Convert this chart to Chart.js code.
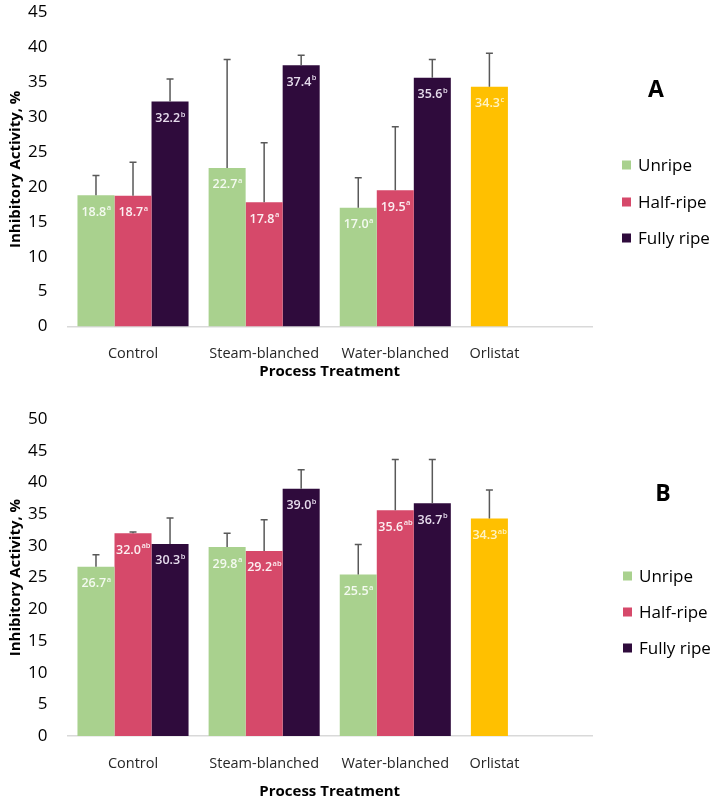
<!DOCTYPE html>
<html><head><meta charset="utf-8">
<script src="https://cdn.jsdelivr.net/npm/chart.js@4"></script>
<style>
html,body{margin:0;padding:0;background:#fff;}
#wa{position:absolute;left:0;top:0;width:720px;height:382px;}
#wb{position:absolute;left:0;top:382px;width:720px;height:420px;}
</style></head><body>
<div id="wa"><canvas id="ca"></canvas></div>
<div id="wb"><canvas id="cb"></canvas></div>
<script>
// ---------- data ----------
const categories = ['Control', 'Steam-blanched', 'Water-blanched', 'Orlistat' + ' '.repeat(17)];
const seriesNames = ['Unripe', 'Half-ripe', 'Fully ripe'];

// Panel A (last Unripe slot = Orlistat reference bar)
const unripeA = [18.8, 22.7, 17.0, 34.3];
const halfA   = [18.7, 17.8, 19.5, null];
const fullyA  = [32.2, 37.4, 35.6, null];
const unripeErrA = [2.8, 15.5, 4.3, 4.8];
const halfErrA   = [4.8, 8.5, 9.1, null];
const fullyErrA  = [3.2, 1.4, 2.6, null];
const unripeSupA = ['a', 'a', 'a', 'c'];
const halfSupA   = ['a', 'a', 'a', null];
const fullySupA  = ['b', 'b', 'b', null];

// Panel B
const unripeB = [26.7, 29.8, 25.5, 34.3];
const halfB   = [32.0, 29.2, 35.6, null];
const fullyB  = [30.3, 39.0, 36.7, null];
const unripeErrB = [1.9, 2.2, 4.7, 4.5];
const halfErrB   = [0.2, 4.9, 8.0, null];
const fullyErrB  = [4.1, 3.0, 6.9, null];
const unripeSupB = ['a', 'a', 'a', 'ab'];
const halfSupB   = ['ab', 'ab', 'ab', null];
const fullySupB  = ['b', 'b', 'b', null];

const yMaxA = 45, yMaxB = 50, yStep = 5;

// ---------- styles ----------
const GREEN = '#A9D18E', RED = '#D6496A', DARK = '#2F0B3C', ORANGE = '#FFC000';
const FONT = '"Open Sans", "DejaVu Sans", sans-serif';
const X_TICK_PAD = 19, Y_TICK_PAD = 20;

const overlay = {
  id: 'overlay',
  afterDatasetsDraw(chart, args, opts) {
    const ctx = chart.ctx, ys = chart.scales.y;
    chart.data.datasets.forEach((ds, di) => {
      const meta = chart.getDatasetMeta(di);
      meta.data.forEach((bar, i) => {
        const v = ds.data[i];
        if (v == null) return;
        const e = ds.errors[i];
        const x = bar.x, top = bar.y;
        if (e != null) {
          const yt = ys.getPixelForValue(v + e);
          ctx.save();
          ctx.strokeStyle = '#595959'; ctx.lineWidth = 1.5;
          ctx.beginPath();
          ctx.moveTo(x, top); ctx.lineTo(x, yt);
          ctx.moveTo(x - 3.5, yt); ctx.lineTo(x + 3.5, yt);
          ctx.stroke();
          ctx.restore();
        }
        const num = v.toFixed(1), sup = ds.sups[i] || '';
        ctx.save();
        ctx.font = '600 12.5px ' + FONT;
        const w1 = ctx.measureText(num).width;
        ctx.font = '600 7.5px ' + FONT;
        const w2 = ctx.measureText(sup).width;
        const start = x - (w1 + w2) / 2;
        const lc = Array.isArray(ds.labelColor) ? ds.labelColor[i] : ds.labelColor;
        ctx.fillStyle = lc; ctx.textBaseline = 'middle'; ctx.textAlign = 'left';
        ctx.font = '600 12.5px ' + FONT; ctx.fillText(num, start, top + 17);
        ctx.font = '600 7.5px ' + FONT; ctx.fillText(sup, start + w1 + 0.5, top + 13);
        ctx.restore();
      });
    });
    // panel letter + legend
    ctx.save();
    ctx.fillStyle = '#000';
    ctx.textAlign = 'center'; ctx.textBaseline = 'middle';
    ctx.font = 'bold 23px ' + FONT;
    ctx.fillText(opts.letter, opts.letterX, opts.letterY);
    ctx.font = '17px ' + FONT; ctx.textAlign = 'left';
    const cols = [GREEN, RED, DARK];
    seriesNames.forEach((n, k) => {
      const yy = opts.legendY[k];
      ctx.fillStyle = cols[k];
      ctx.fillRect(opts.boxX, yy - 4.5, 9, 9);
      ctx.fillStyle = '#000';
      ctx.fillText(n, opts.boxX + 16, yy + 1);
    });
    ctx.restore();
  }
};

function makeChart(id, u, h, f, ue, he, fe, us, hs, fs, yMax, pad, titlePad, ov) {
  return new Chart(document.getElementById(id), {
    type: 'bar',
    data: {
      labels: categories,
      datasets: [
        { label: seriesNames[0], data: u, errors: ue, sups: us,
          backgroundColor: [GREEN, GREEN, GREEN, ORANGE],
          labelColor: ['#F4FAF0', '#F4FAF0', '#F4FAF0', '#FFF3C4'] },
        { label: seriesNames[1], data: h, errors: he, sups: hs,
          backgroundColor: RED, labelColor: '#FCEFF2' },
        { label: seriesNames[2], data: f, errors: fe, sups: fs,
          backgroundColor: DARK, labelColor: '#E6DCEC' }
      ]
    },
    options: {
      responsive: true, maintainAspectRatio: false, animation: false,
      layout: { padding: pad },
      datasets: { bar: { categoryPercentage: 0.847, barPercentage: 1.0, borderWidth: 0 } },
      plugins: { legend: { display: false }, tooltip: { enabled: false }, overlay: ov },
      scales: {
        x: {
          grid: { display: false, drawTicks: false, tickLength: 0 },
          border: { display: true, color: '#D9D9D9', width: 1.5 },
          ticks: { color: '#262626', font: { family: FONT, size: 14.5 }, padding: X_TICK_PAD, maxRotation: 0, autoSkip: false },
          title: { display: true, text: 'Process Treatment', color: '#000',
                   font: { family: FONT, size: 15, weight: 'bold' }, padding: titlePad },
          afterFit(s) { s.height -= X_TICK_PAD; }
        },
        y: {
          min: 0, max: yMax,
          grid: { display: false, drawTicks: false, tickLength: 0 },
          border: { display: false },
          ticks: { stepSize: yStep, color: '#000', font: { family: FONT, size: 17 }, padding: Y_TICK_PAD },
          title: { display: true, text: 'Inhibitory Activity, %', color: '#000',
                   font: { family: FONT, size: 15, weight: 'bold' }, padding: { top: 5, bottom: 3 } },
          afterFit(s) { s.width -= Y_TICK_PAD; s.paddingTop = 0; s.paddingBottom = 0; }
        }
      }
    },
    plugins: [overlay]
  });
}

makeChart('ca', unripeA, halfA, fullyA, unripeErrA, halfErrA, fullyErrA, unripeSupA, halfSupA, fullySupA,
  yMaxA, { left: 2, right: 128, top: 12, bottom: 1 }, { top: 0, bottom: 0 },
  { letter: 'A', letterX: 656, letterY: 90, boxX: 622, legendY: [165, 202, 238] });

makeChart('cb', unripeB, halfB, fullyB, unripeErrB, halfErrB, fullyErrB, unripeSupB, halfSupB, fullySupB,
  yMaxB, { left: 2, right: 128, top: 37, bottom: 1 }, { top: 10.5, bottom: 0 },
  { letter: 'B', letterX: 663, letterY: 112, boxX: 623, legendY: [194, 230, 266] });
</script>
</body></html>
